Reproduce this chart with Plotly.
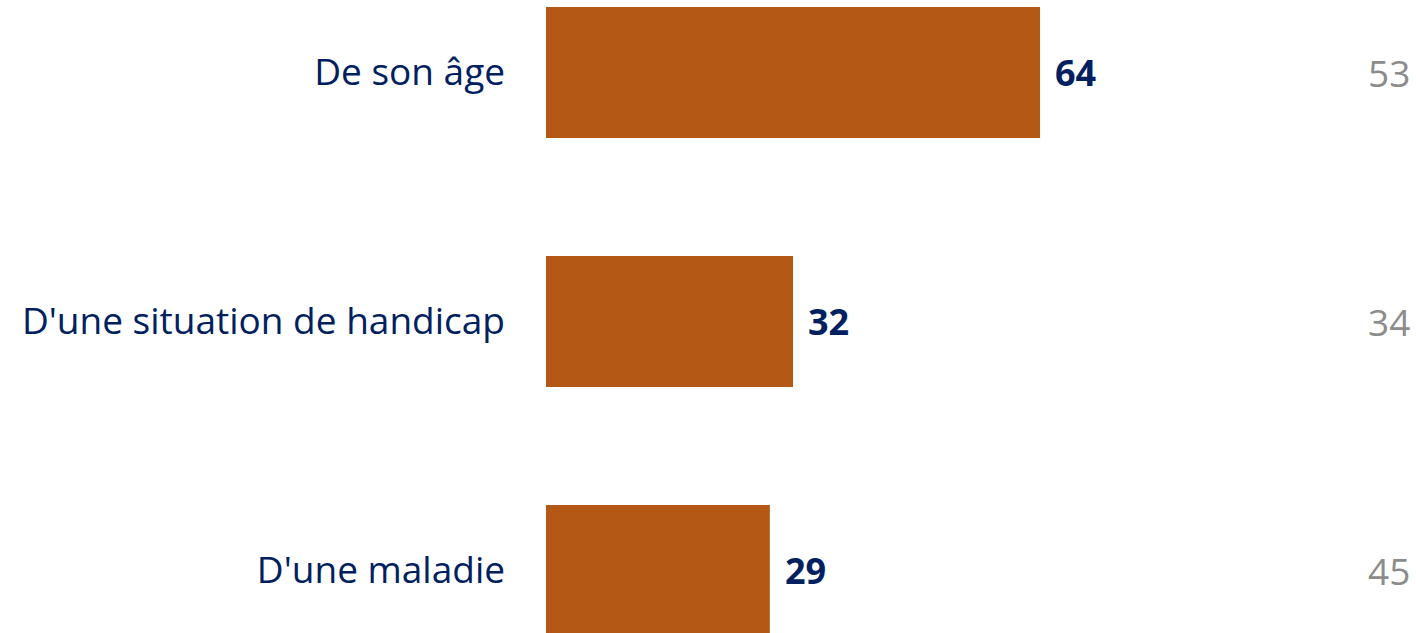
import plotly.graph_objects as go

categories = ["De son âge", "D'une situation de handicap", "D'une maladie"]
values = [64, 32, 29]
compare_values = [53, 34, 45]

BAR = "#B45816"
NAVY = "#002060"
GRAY = "#8C8C8C"
FONT = "Open Sans"

fig = go.Figure()
fig.add_trace(go.Bar(
    x=values, y=categories, orientation="h",
    marker=dict(color=BAR, line=dict(width=0)),
    hoverinfo="skip",
))

for cat, v in zip(categories, values):
    fig.add_annotation(x=v, y=cat, text=f"<b>{v}</b>", showarrow=False,
                       xanchor="left", xshift=13,
                       font=dict(family=FONT, size=36, color=NAVY))
for cat, c in zip(categories, compare_values):
    fig.add_annotation(x=1, xref="paper", y=cat, text=str(c), showarrow=False,
                       xanchor="right", xshift=-4,
                       font=dict(family=FONT, size=37, color=GRAY))

fig.update_layout(
    width=1416, height=633,
    margin=dict(l=546, r=0, t=0, b=0),
    plot_bgcolor="white", paper_bgcolor="white",
    bargap=0.474,
    showlegend=False,
    font=dict(family=FONT, color=NAVY),
)
fig.update_xaxes(range=[0, 112.7], visible=False, fixedrange=True)
fig.update_yaxes(type="category", range=[2.251, -0.291], showgrid=False, zeroline=False,
                 showline=False, ticks="", ticklabelstandoff=40,
                 tickfont=dict(family=FONT, size=37, color=NAVY), fixedrange=True)

fig.write_html("out.html", config={"displayModeBar": False},
               post_script="document.body.style.margin='0';document.body.style.overflow='hidden';")
